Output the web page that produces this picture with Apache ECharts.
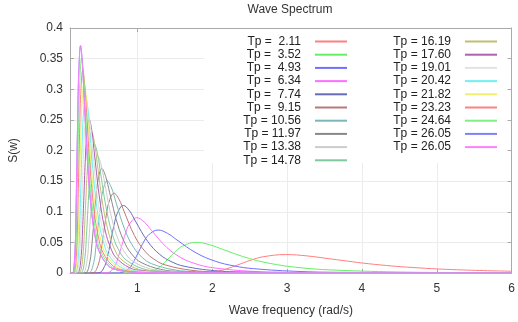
<!DOCTYPE html>
<html><head><meta charset="utf-8">
<script src="https://cdn.jsdelivr.net/npm/echarts@6/dist/echarts.min.js"></script>
<style>html,body{margin:0;padding:0;background:#fff}#c{width:518px;height:322px}</style>
</head><body><div id="c"></div>
<script>
const tpLabels = ['Tp =  2.11','Tp =  3.52','Tp =  4.93','Tp =  6.34','Tp =  7.74','Tp =  9.15','Tp = 10.56','Tp = 11.97','Tp = 13.38','Tp = 14.78',
  'Tp = 16.19','Tp = 17.60','Tp = 19.01','Tp = 20.42','Tp = 21.82','Tp = 23.23','Tp = 24.64','Tp = 26.05','Tp = 26.05 '];
const lineColors = ['#ff7f7f','#66ee66','#7070ff','#ff70ff','#6a6ab8','#b87878','#78b8b8','#888888','#cccccc','#80c8a0',
  '#c0c070','#b060b0','#e2e2e2','#70f0f0','#f0f070','#ff8080','#80f080','#8080ff','#ff80ff'];
const yTicks = [0, 0.05, 0.1, 0.15, 0.2, 0.25, 0.3, 0.35, 0.4];

const tp02_11 = [[0.1,0],[1.5,0],[1.787,0.0001],[2.085,0.0034],[2.234,0.0085],[2.382,0.0151],[2.531,0.0216],[2.68,0.0265],[2.978,0.0301],[3.276,0.0278],[3.574,0.0231],[4.169,0.0141],[4.765,0.0083],[5.36,0.0049],[6,0.0029]];
const tp03_52 = [[0.1,0],[0.9,0],[1.071,0.0001],[1.25,0.0057],[1.339,0.0142],[1.428,0.0252],[1.517,0.036],[1.607,0.0441],[1.785,0.0501],[1.964,0.0462],[2.142,0.0385],[2.499,0.0235],[2.856,0.0138],[3.213,0.0082],[3.57,0.0051],[4.463,0.0017],[5.355,0.0007],[6,0.0004]];
const tp04_93 = [[0.1,0],[0.65,0],[0.765,0.0002],[0.892,0.008],[0.956,0.0199],[1.02,0.0353],[1.083,0.0505],[1.147,0.0618],[1.275,0.0702],[1.402,0.0648],[1.529,0.0539],[1.784,0.0329],[2.039,0.0193],[2.294,0.0115],[2.549,0.0071],[3.186,0.0024],[3.824,0.001],[5.098,0.0002],[6,0.0001]];
const tp06_34 = [[0.1,0],[0.5,0],[0.595,0.0003],[0.694,0.0103],[0.743,0.0256],[0.793,0.0454],[0.842,0.0649],[0.892,0.0795],[0.991,0.0903],[1.09,0.0833],[1.189,0.0694],[1.387,0.0424],[1.586,0.0248],[1.784,0.0148],[1.982,0.0091],[2.478,0.0031],[2.973,0.0013],[3.964,0.0003],[4.955,0.0001],[6,0]];
const tp07_74 = [[0.1,0],[0.42,0],[0.487,0.0003],[0.568,0.0126],[0.609,0.0312],[0.649,0.0555],[0.69,0.0793],[0.731,0.0971],[0.812,0.1103],[0.893,0.1018],[0.974,0.0847],[1.137,0.0517],[1.299,0.0303],[1.461,0.0181],[1.624,0.0111],[2.03,0.0038],[2.435,0.0016],[3.247,0.0004],[4.059,0.0001],[6,0]];
const tp09_15 = [[0.1,0],[0.36,0],[0.412,0.0004],[0.481,0.0149],[0.515,0.0369],[0.549,0.0655],[0.584,0.0937],[0.618,0.1147],[0.687,0.1303],[0.755,0.1203],[0.824,0.1001],[0.961,0.0611],[1.099,0.0358],[1.236,0.0214],[1.373,0.0132],[1.717,0.0045],[2.06,0.0018],[2.747,0.0004],[3.434,0.0001],[6,0]];
const tp10_56 = [[0.1,0],[0.31,0],[0.357,0.0004],[0.417,0.0171],[0.446,0.0426],[0.476,0.0757],[0.506,0.1081],[0.536,0.1324],[0.595,0.1504],[0.655,0.1388],[0.714,0.1155],[0.833,0.0705],[0.952,0.0414],[1.071,0.0247],[1.19,0.0152],[1.488,0.0052],[1.785,0.0021],[2.38,0.0005],[2.975,0.0002],[6,0]];
const tp11_97 = [[0.1,0],[0.27,0],[0.315,0.0005],[0.367,0.0194],[0.394,0.0483],[0.42,0.0858],[0.446,0.1226],[0.472,0.15],[0.525,0.1705],[0.577,0.1574],[0.63,0.1309],[0.735,0.08],[0.84,0.0469],[0.945,0.028],[1.05,0.0172],[1.312,0.0059],[1.575,0.0024],[2.1,0.0006],[2.625,0.0002],[6,0]];
const tp13_38 = [[0.1,0],[0.24,0],[0.282,0.0006],[0.329,0.0217],[0.352,0.0539],[0.376,0.0959],[0.399,0.137],[0.423,0.1677],[0.47,0.1906],[0.517,0.1759],[0.564,0.1464],[0.657,0.0894],[0.751,0.0524],[0.845,0.0313],[0.939,0.0192],[1.174,0.0066],[1.409,0.0027],[1.878,0.0006],[2.348,0.0002],[6,0]];
const tp14_78 = [[0.1,0],[0.22,0],[0.255,0.0006],[0.298,0.024],[0.319,0.0596],[0.34,0.1059],[0.361,0.1513],[0.383,0.1852],[0.425,0.2105],[0.468,0.1943],[0.51,0.1617],[0.595,0.0987],[0.68,0.0579],[0.765,0.0345],[0.85,0.0213],[1.063,0.0073],[1.275,0.003],[1.7,0.0007],[2.126,0.0002],[6,0]];
const tp16_19 = [[0.1,0],[0.2,0],[0.233,0.0007],[0.272,0.0263],[0.291,0.0653],[0.31,0.116],[0.33,0.1658],[0.349,0.2029],[0.388,0.2306],[0.427,0.2128],[0.466,0.1771],[0.543,0.1082],[0.621,0.0634],[0.699,0.0378],[0.776,0.0233],[0.97,0.008],[1.164,0.0033],[1.552,0.0008],[1.941,0.0003],[6,0]];
const tp17_60 = [[0.1,0],[0.185,0],[0.214,0.0007],[0.25,0.0286],[0.268,0.0709],[0.286,0.1261],[0.303,0.1803],[0.321,0.2206],[0.357,0.2507],[0.393,0.2314],[0.428,0.1925],[0.5,0.1176],[0.571,0.0689],[0.643,0.0411],[0.714,0.0253],[0.893,0.0087],[1.071,0.0035],[1.428,0.0009],[1.785,0.0003],[6,0]];
const tp19_01 = [[0.1,0],[0.17,0],[0.198,0.0008],[0.231,0.0309],[0.248,0.0766],[0.264,0.1362],[0.281,0.1947],[0.297,0.2383],[0.331,0.2708],[0.364,0.2499],[0.397,0.208],[0.463,0.127],[0.529,0.0745],[0.595,0.0444],[0.661,0.0273],[0.826,0.0094],[0.992,0.0038],[1.322,0.0009],[1.653,0.0003],[6,0]];
const tp20_42 = [[0.1,0],[0.16,0],[0.185,0.0008],[0.215,0.0332],[0.231,0.0823],[0.246,0.1463],[0.262,0.2092],[0.277,0.256],[0.308,0.2909],[0.338,0.2685],[0.369,0.2234],[0.431,0.1364],[0.492,0.08],[0.554,0.0477],[0.615,0.0294],[0.769,0.0101],[0.923,0.0041],[1.231,0.001],[1.539,0.0003],[6,0]];
const tp21_82 = [[0.1,0],[0.15,0],[0.173,0.0009],[0.202,0.0354],[0.216,0.088],[0.23,0.1563],[0.245,0.2235],[0.259,0.2735],[0.288,0.3108],[0.317,0.2869],[0.346,0.2387],[0.403,0.1458],[0.461,0.0855],[0.518,0.051],[0.576,0.0314],[0.72,0.0108],[0.864,0.0044],[1.152,0.0011],[1.44,0.0003],[6,0]];
const tp23_23 = [[0.1,0],[0.14,0],[0.162,0.001],[0.189,0.0377],[0.203,0.0936],[0.216,0.1664],[0.23,0.2379],[0.243,0.2912],[0.271,0.3309],[0.298,0.3054],[0.325,0.2541],[0.379,0.1552],[0.433,0.091],[0.487,0.0543],[0.541,0.0334],[0.676,0.0114],[0.812,0.0047],[1.082,0.0011],[1.353,0.0004],[6,0]];
const tp24_64 = [[0.1,0],[0.13,0],[0.153,0.001],[0.179,0.04],[0.191,0.0993],[0.204,0.1766],[0.217,0.2524],[0.23,0.3089],[0.255,0.351],[0.281,0.324],[0.306,0.2696],[0.357,0.1646],[0.408,0.0965],[0.459,0.0576],[0.51,0.0355],[0.638,0.0121],[0.765,0.0049],[1.02,0.0012],[1.275,0.0004],[6,0]];
const tp26_05 = [[0.1,0],[0.125,0],[0.145,0.0011],[0.169,0.0423],[0.181,0.105],[0.193,0.1867],[0.205,0.2668],[0.217,0.3266],[0.241,0.3711],[0.265,0.3425],[0.289,0.285],[0.338,0.174],[0.386,0.1021],[0.434,0.0609],[0.482,0.0375],[0.603,0.0128],[0.724,0.0052],[0.965,0.0013],[1.206,0.0004],[6,0]];

const seriesValues = [tp02_11,tp03_52,tp04_93,tp06_34,tp07_74,tp09_15,tp10_56,tp11_97,tp13_38,tp14_78,
  tp16_19,tp17_60,tp19_01,tp20_42,tp21_82,tp23_23,tp24_64,tp26_05,tp26_05];

const FONT = "'Liberation Sans', Arial, sans-serif";
const chart = echarts.init(document.getElementById('c'), null, {renderer:'canvas'});

const legendBase = {
  orient: 'vertical', align: 'right', padding: 0, itemGap: 0.2,
  itemWidth: 32, itemHeight: 2, icon: 'rect', selectedMode: false,
  formatter: n => '{a|' + n.trim() + '}',
  textStyle: { fontFamily: FONT, fontSize: 12, color: '#222', lineHeight: 13,
    rich: { a: { width: 60, align: 'right', padding: [0, 9, 0, 0], fontFamily: FONT, fontSize: 12, color: '#222', lineHeight: 13 } } }
};

const axisGray = '#aaaaaa';
const option = {
  animation: false,
  backgroundColor: '#fff',
  title: { text: 'Wave Spectrum', left: 290, top: 4, textAlign: 'center', padding: 0,
    textStyle: { fontFamily: FONT, fontSize: 12, fontWeight: 'normal', color: '#333' } },
  grid: { left: 69, right: 6, top: 28, bottom: 45, show: false },
  xAxis: [{
    type: 'value', min: 0.1, max: 6, position: 'bottom',
    name: 'Wave frequency (rad/s)', nameLocation: 'middle', nameGap: 32,
    nameTextStyle: { fontFamily: FONT, fontSize: 12, color: '#333' },
    axisLine: { show: true, onZero: false, lineStyle: { color: axisGray } },
    axisTick: { show: true, inside: true, length: 4, lineStyle: { color: axisGray } },
    axisLabel: { fontFamily: FONT, fontSize: 12, color: '#333', margin: 10, showMinLabel: false,
      formatter: v => (Math.abs(v - Math.round(v)) < 1e-9 ? String(Math.round(v)) : '') },
    splitLine: { show: true, lineStyle: { color: '#ececec' } }
  }, {
    type: 'value', min: 0.1, max: 6, position: 'top',
    axisLine: { show: true, onZero: false, lineStyle: { color: axisGray } },
    axisTick: { show: true, inside: true, length: 4, lineStyle: { color: axisGray } },
    axisLabel: { show: false }, splitLine: { show: false }
  }],
  yAxis: [{
    type: 'value', min: 0, max: 0.4, interval: 0.05, position: 'left',
    name: 'S(w)', nameLocation: 'middle', nameGap: 50, nameRotate: 90,
    nameTextStyle: { fontFamily: FONT, fontSize: 12, color: '#333' },
    axisLine: { show: true, onZero: false, lineStyle: { color: axisGray } },
    axisTick: { show: true, inside: true, length: 4, lineStyle: { color: axisGray } },
    axisLabel: { fontFamily: FONT, fontSize: 12, color: '#333', margin: 7,
      formatter: v => String(parseFloat(v.toFixed(2))) },
    splitLine: { show: true, lineStyle: { color: '#ececec' } }
  }, {
    type: 'value', min: 0, max: 0.4, interval: 0.05, position: 'right',
    axisLine: { show: true, onZero: false, lineStyle: { color: axisGray } },
    axisTick: { show: true, inside: true, length: 4, lineStyle: { color: axisGray } },
    axisLabel: { show: false }, splitLine: { show: false }
  }],
  graphic: { elements: [{ type: 'rect', z: 3, shape: { x: 204, y: 29, width: 303, height: 134 },
    style: { fill: '#ffffff' }, silent: true }] },
  legend: [
    Object.assign({}, legendBase, { left: 241, top: 35, data: tpLabels.slice(0, 10) }),
    Object.assign({}, legendBase, { left: 391, top: 35, data: tpLabels.slice(10) })
  ],
  series: seriesValues.map((d, i) => ({
    type: 'line', name: tpLabels[i], data: d, xAxisIndex: 0, yAxisIndex: 0,
    showSymbol: false, symbol: 'none', smooth: 0.4, clip: true,
    lineStyle: { width: 1, color: lineColors[i] }, itemStyle: { color: lineColors[i] }
  }))
};
chart.setOption(option);
</script></body></html>
